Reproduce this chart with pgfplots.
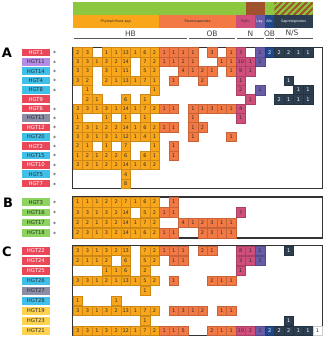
\documentclass[border=0pt]{standalone}
\usepackage{pgfplots}
\pgfplotsset{compat=1.18}
\usepackage{pgfplotstable}
\usepackage{fontspec}
\setmainfont{DejaVu Sans}
\usetikzlibrary{patterns.meta}

\definecolor{cHB}{RGB}{250,166,26}
\definecolor{cPer}{RGB}{243,121,68}
\definecolor{cPy}{RGB}{207,78,124}
\definecolor{cLag}{RGB}{104,92,168}
\definecolor{cAlb}{RGB}{32,72,140}
\definecolor{cSap}{RGB}{44,62,80}
\definecolor{cGreen}{RGB}{141,198,63}
\definecolor{cBrown}{RGB}{160,82,45}
\definecolor{lRed}{RGB}{234,72,88}
\definecolor{lLav}{RGB}{180,140,230}
\definecolor{lCyan}{RGB}{64,192,232}
\definecolor{lGray}{RGB}{140,142,168}
\definecolor{lGreen}{RGB}{141,211,95}
\definecolor{lYel}{RGB}{255,210,80}
\definecolor{txt}{RGB}{45,45,45}

\newcommand{\cellfont}{\fontsize{5}{5}\selectfont}
\newcommand{\lblfont}{\fontsize{5.3}{5.3}\selectfont}
\newcommand{\stripfont}{\fontsize{3.4}{3.4}\selectfont}
\newcommand{\grpfont}{\fontsize{7.5}{7.5}\selectfont}
\newcommand{\ypos}{(\thisrow{r}<15 ? 52.4+9.37*\thisrow{r} : (\thisrow{r}<19 ? 202.1+10.25*(\thisrow{r}-15) : 250.8+10*(\thisrow{r}-19)))}
\newcommand{\xpos}{77.8+9.59*\thisrow{c}}

\pgfplotsset{
  cell/.style 2 args={only marks, mark=square*, mark size=4.8pt,
    mark options={fill=#1, draw=#1!82!black, line width=0.3pt},
    nodes near coords, point meta=explicit symbolic,
    every node near coord/.append style={font=\cellfont, text=#2, anchor=center, inner sep=0pt}},
  lbl/.style 2 args={draw=none, mark=none,
    nodes near coords, point meta=explicit symbolic,
    every node near coord/.append style={font=\lblfont, fill=#1, text=#2, anchor=center,
      inner sep=0pt, minimum width=28.3pt, minimum height=7.6pt}},
}

% HB (Phytophthora) cells
\pgfplotstableread{
c r v
0 0 2
1 0 3
3 0 1
4 0 1
5 0 13
6 0 1
7 0 6
8 0 2
0 1 3
1 1 3
2 1 1
3 1 3
4 1 2
5 1 14
7 1 7
8 1 2
0 2 3
1 2 3
3 2 3
4 2 1
5 2 11
7 2 5
8 2 2
0 3 3
1 3 2
3 3 2
4 3 1
5 3 13
6 3 1
7 3 7
8 3 1
1 4 1
8 4 1
1 5 2
2 5 1
5 5 6
7 5 1
0 6 3
1 6 3
2 6 1
3 6 3
4 6 1
5 6 14
6 6 1
7 6 7
8 6 2
0 7 1
3 7 1
5 7 1
7 7 1
0 8 2
1 8 3
2 8 1
3 8 2
4 8 2
5 8 14
6 8 1
7 8 6
8 8 2
0 9 3
1 9 3
2 9 1
3 9 3
4 9 1
5 9 12
6 9 1
7 9 4
8 9 1
0 10 2
1 10 1
3 10 1
5 10 7
8 10 1
0 11 1
1 11 2
2 11 1
3 11 2
4 11 2
5 11 6
7 11 6
8 11 1
0 12 3
1 12 2
2 12 1
3 12 2
4 12 2
5 12 14
6 12 1
7 12 6
8 12 2
5 13 4
5 14 8
0 15 1
1 15 1
2 15 1
3 15 2
4 15 2
5 15 7
6 15 1
7 15 6
8 15 2
0 16 3
1 16 3
2 16 1
3 16 3
4 16 2
5 16 14
7 16 5
8 16 2
0 17 2
1 17 2
2 17 1
3 17 3
4 17 2
5 17 14
6 17 1
7 17 7
8 17 2
0 18 2
1 18 3
2 18 1
3 18 3
4 18 2
5 18 14
6 18 1
7 18 6
8 18 2
0 19 3
1 19 3
2 19 1
3 19 3
4 19 2
5 19 13
7 19 7
8 19 2
0 20 2
1 20 1
2 20 1
3 20 2
5 20 6
7 20 5
8 20 2
3 21 1
4 21 1
5 21 6
7 21 2
0 22 3
1 22 3
2 22 1
3 22 2
4 22 1
5 22 13
6 22 1
7 22 5
8 22 2
7 23 1
0 24 1
4 24 1
0 25 3
1 25 3
2 25 1
3 25 3
4 25 2
5 25 13
6 25 1
7 25 7
8 25 2
7 26 1
0 27 3
1 27 3
2 27 1
3 27 3
4 27 2
5 27 12
6 27 1
7 27 7
8 27 2
}\tHB

% Peronosporales cells
\pgfplotstableread{
c r v
9 0 1
10 0 1
11 0 1
12 0 1
14 0 3
16 0 1
9 1 1
10 1 1
11 1 2
12 1 1
15 1 1
16 1 1
11 2 4
12 2 1
13 2 2
14 2 1
16 2 1
10 3 1
13 3 2
9 6 1
10 6 1
12 6 1
13 6 1
14 6 3
15 6 1
16 6 1
12 7 1
9 8 1
10 8 1
12 8 1
13 8 2
12 9 1
16 9 1
10 10 1
10 11 1
10 15 1
9 16 1
10 16 1
11 17 4
12 17 1
13 17 2
14 17 3
15 17 1
16 17 1
9 18 1
10 18 1
13 18 2
14 18 3
15 18 1
16 18 1
9 19 1
10 19 1
11 19 1
13 19 2
14 19 1
10 20 1
11 20 1
10 22 1
14 22 2
15 22 1
16 22 1
10 25 1
11 25 3
12 25 1
13 25 2
15 25 1
16 25 1
9 27 1
10 27 1
11 27 5
14 27 2
15 27 1
16 27 1
}\tPer

% Pythiales
\pgfplotstableread{
c r v
17 0 3
17 1 10
18 1 1
17 2 9
18 2 1
17 3 1
17 4 2
18 5 1
17 6 4
17 7 1
17 16 7
17 19 8
18 19 1
17 20 3
18 20 1
17 21 1
17 27 10
18 27 2
}\tPy

% Lagenidium
\pgfplotstableread{
c r v
19 0 1
19 1 1
19 4 1
19 19 1
19 20 2
19 27 2
}\tLag

% Albuginales
\pgfplotstableread{
c r v
20 0 2
20 27 2
}\tAlb

% Saprolegniales
\pgfplotstableread{
c r v
21 0 2
22 0 2
23 0 1
24 0 1
22 3 1
23 4 1
24 4 1
21 5 2
22 5 1
23 5 1
24 5 1
22 19 1
22 26 1
21 27 2
22 27 2
23 27 1
24 27 1
}\tSap

% other
\pgfplotstableread{
c r v
25 27 1
}\tOth

% row labels by colour
\pgfplotstableread{
r n
0 HGT1
5 HGT9
6 HGT6
8 HGT12
10 HGT2
12 HGT10
14 HGT7
19 HGT22
20 HGT24
21 HGT25
}\lRedT
\pgfplotstableread{
r n
1 HGT11
}\lLavT
\pgfplotstableread{
r n
2 HGT14
3 HGT4
4 HGT8
9 HGT20
11 HGT15
13 HGT5
22 HGT26
24 HGT28
}\lCyanT
\pgfplotstableread{
r n
7 HGT13
23 HGT27
}\lGrayT
\pgfplotstableread{
r n
15 HGT3
16 HGT16
17 HGT17
18 HGT18
}\lGreenT
\pgfplotstableread{
r n
25 HGT19
26 HGT23
27 HGT21
}\lYelT
\pgfplotstableread{
r n
0 *
1 *
2 *
3 *
4 *
6 *
7 *
8 *
9 *
10 *
11 *
12 *
13 *
14 *
15 *
16 *
17 *
18 *
}\astT

\begin{document}
\begin{tikzpicture}
\begin{axis}[
  scale only axis, width=325pt, height=340pt,
  xmin=0, xmax=325, ymin=0, ymax=340, y dir=reverse,
  axis lines=none, clip=false,
]
% header strips
\fill[cGreen] (axis cs:73,2) rectangle (axis cs:245.6,15);
\fill[cBrown] (axis cs:245.6,2) rectangle (axis cs:264.8,15);
\fill[cGreen] (axis cs:264.8,2) rectangle (axis cs:312.75,15);
\fill[pattern={Lines[angle=45,distance=4.4pt,line width=2pt]}, pattern color=cBrown] (axis cs:274.4,2) rectangle (axis cs:312.75,15);
\fill[cHB] (axis cs:73,15) rectangle (axis cs:159.3,27.5);
\fill[cPer] (axis cs:159.3,15) rectangle (axis cs:236,27.5);
\fill[cPy] (axis cs:236,15) rectangle (axis cs:255.2,27.5);
\fill[cLag] (axis cs:255.2,15) rectangle (axis cs:264.8,27.5);
\fill[cAlb] (axis cs:264.8,15) rectangle (axis cs:274.4,27.5);
\fill[cSap] (axis cs:274.4,15) rectangle (axis cs:312.75,27.5);
\node[font=\stripfont\itshape, text=txt] at (axis cs:116.2,21.3) {Phytophthora spp.};
\node[font=\stripfont, text=txt] at (axis cs:197.6,21.3) {Peronosporales};
\node[font=\stripfont, text=txt] at (axis cs:245.6,21.3) {Pyth.};
\node[font=\stripfont, text=white] at (axis cs:260,21.3) {Lag.};
\node[font=\stripfont, text=white] at (axis cs:269.6,21.3) {Alb.};
\node[font=\stripfont, text=white] at (axis cs:293.6,21.3) {Saprolegniales};
% group labels
\draw[gray!70!black, line width=0.6pt] (axis cs:73.5,38.3) -- (axis cs:187.2,38.3);
\draw[gray!70!black, line width=0.6pt] (axis cs:189,38.3) -- (axis cs:235.2,38.3);
\draw[gray!70!black, line width=0.6pt] (axis cs:237,38.3) -- (axis cs:263.9,38.3);
\draw[gray!70!black, line width=0.6pt] (axis cs:265.7,38.3) -- (axis cs:273.6,38.3);
\draw[gray!70!black, line width=0.6pt] (axis cs:275.4,38.3) -- (axis cs:312.5,38.3);
\node[font=\grpfont, text=black!75] at (axis cs:130.5,33.5) {HB};
\node[font=\grpfont, text=black!75] at (axis cs:212.1,33.5) {OB};
\node[font=\grpfont, text=black!75] at (axis cs:250.4,33.5) {N};
\node[font=\grpfont, text=black!75] at (axis cs:269.6,33.5) {OB};
\node[font=\grpfont, text=black!75] at (axis cs:292,33.5) {N/S};
% panel letters
\node[font=\fontsize{13}{13}\selectfont\bfseries] at (axis cs:7,52.4) {A};
\node[font=\fontsize{13}{13}\selectfont\bfseries] at (axis cs:8,203) {B};
\node[font=\fontsize{13}{13}\selectfont\bfseries] at (axis cs:7,251.3) {C};
% cells
\addplot[cell={cHB}{txt}] table[x expr=\xpos, y expr=\ypos, meta=v] {\tHB};
\addplot[cell={cPer}{txt}] table[x expr=\xpos, y expr=\ypos, meta=v] {\tPer};
\addplot[cell={cPy}{txt}] table[x expr=\xpos, y expr=\ypos, meta=v] {\tPy};
\addplot[cell={cLag}{txt}] table[x expr=\xpos, y expr=\ypos, meta=v] {\tLag};
\addplot[cell={cAlb}{white}] table[x expr=\xpos, y expr=\ypos, meta=v] {\tAlb};
\addplot[cell={cSap}{white}] table[x expr=\xpos, y expr=\ypos, meta=v] {\tSap};
\addplot[cell={white}{txt}, mark options={fill=white, draw=gray!40, line width=0.3pt}] table[x expr=\xpos, y expr=\ypos, meta=v] {\tOth};
% frames
\draw[black!80, line width=1.1pt] (axis cs:72.5,47.7) rectangle (axis cs:322.5,188.3);
\draw[black!80, line width=1.1pt] (axis cs:72.5,197) rectangle (axis cs:322.5,238);
\draw[black!80, line width=1.1pt] (axis cs:72.5,245.8) rectangle (axis cs:322.5,335.8);
% row labels
\addplot[lbl={lRed}{white}] table[x expr=35.8, y expr=\ypos, meta=n] {\lRedT};
\addplot[lbl={lLav}{txt}] table[x expr=35.8, y expr=\ypos, meta=n] {\lLavT};
\addplot[lbl={lCyan}{txt}] table[x expr=35.8, y expr=\ypos, meta=n] {\lCyanT};
\addplot[lbl={lGray}{txt}] table[x expr=35.8, y expr=\ypos, meta=n] {\lGrayT};
\addplot[lbl={lGreen}{txt}] table[x expr=35.8, y expr=\ypos, meta=n] {\lGreenT};
\addplot[lbl={lYel}{txt}] table[x expr=35.8, y expr=\ypos, meta=n] {\lYelT};
\addplot[draw=none, mark=none, nodes near coords, point meta=explicit symbolic,
  every node near coord/.append style={font=\fontsize{6}{6}\selectfont, text=txt, anchor=center, inner sep=0pt, yshift=-1.2pt}]
  table[x expr=54.5, y expr=\ypos, meta=n] {\astT};
\end{axis}
\pgfresetboundingbox
\path[use as bounding box] (current axis.south west) rectangle (current axis.north east);
\end{tikzpicture}
\end{document}
